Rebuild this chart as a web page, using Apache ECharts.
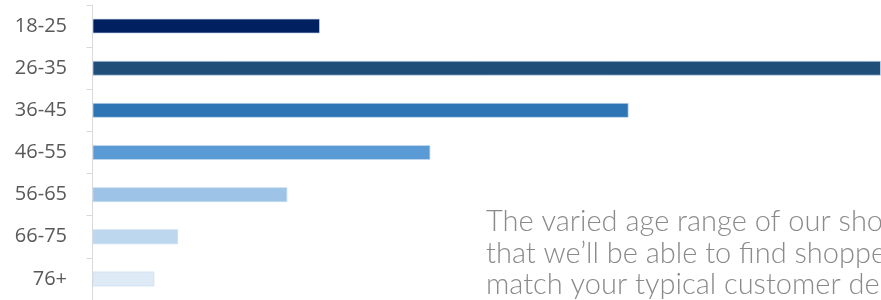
<!DOCTYPE html>
<html>
<head>
<meta charset="utf-8">
<style>
html,body{margin:0;padding:0;background:#fff;}
#chart{width:881px;height:300px;}
</style>
<script src="https://cdn.jsdelivr.net/npm/echarts@6/dist/echarts.min.js"></script>
</head>
<body>
<div id="chart"></div>
<script>
const categories = ['18-25','26-35','36-45','46-55','56-65','66-75','76+'];
const values = [10.1, 35, 23.8, 15.0, 8.65, 3.8, 2.75];
const barColors = ['#002060','#1F4E79','#2E75B6','#5B9BD5','#9DC3E6','#BDD7EE','#DEEBF7'];
const noteLines = [
  'The varied age range of our shoppers means',
  'that we\u2019ll be able to find shoppers who',
  'match your typical customer demographic'
];

const chart = echarts.init(document.getElementById('chart'), null, {renderer:'canvas'});
chart.setOption({
  animation:false,
  backgroundColor:'#ffffff',
  grid:{left:92.5, right:0, top:5, bottom:-2.5, containLabel:false},
  xAxis:{type:'value', min:0, max:35, show:false},
  yAxis:{
    type:'category', data:categories, inverse:true, offset:3.5,
    axisLine:{show:true, lineStyle:{color:'#d9d9d9', width:1}},
    axisTick:{show:true, length:6, lineStyle:{color:'#d9d9d9'}},
    axisLabel:{color:'#595959', fontSize:20, fontFamily:'"Open Sans", "Noto Sans", sans-serif', margin:22},
    splitLine:{show:false}
  },
  series:[{
    type:'bar', barWidth:15,
    data: values.map((v,i)=>({value:v, itemStyle:{color:barColors[i]}})),
    itemStyle:{borderColor:'rgba(200,220,240,0.7)', borderWidth:1}
  }],
  graphic: noteLines.map((t,i)=>({
    type:'text', x:486, y:236 + i*31.7, silent:true,
    style:{text:t, fill:'#8a8a8a', font:'300 29px Lato, "Open Sans", sans-serif', verticalAlign:'bottom'}
  }))
});
</script>
</body>
</html>
